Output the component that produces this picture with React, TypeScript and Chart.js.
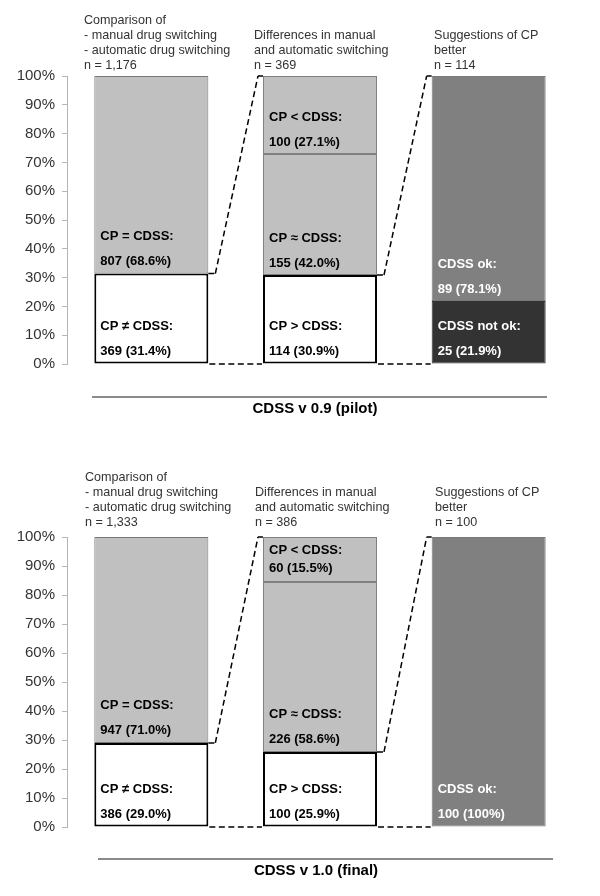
import React, { useEffect, useRef } from "react";
import { Chart, registerables } from "chart.js";

Chart.register(...registerables);

// ---------- data ----------
const barKeys = ["comparison", "differences", "suggestions"];

// counts per segment (lower / middle / upper) for each of the three bars
const pilotLower = [369, 114, 25];
const pilotMiddle = [807, 155, 89];
const pilotUpper = [0, 100, 0];
// shares in % as printed
const pilotLowerPct = [31.4, 30.9, 21.9];
const pilotMiddlePct = [68.6, 42.0, 78.1];
const pilotUpperPct = [0, 27.1, 0];

const finalLower = [386, 100, 0];
const finalMiddle = [947, 226, 100];
const finalUpper = [0, 60, 0];
const finalLowerPct = [29.0, 25.9, 0];
const finalMiddlePct = [71.0, 58.6, 100];
const finalUpperPct = [0, 15.5, 0];

const lowerNames = ["CP \u2260 CDSS:", "CP > CDSS:", "CDSS not ok:"];
const middleNames = ["CP = CDSS:", "CP \u2248 CDSS:", "CDSS ok:"];
const upperNames = ["", "CP < CDSS:", ""];

const headingLines = [
  ["Comparison of", "- manual drug switching", "- automatic drug switching"],
  ["Differences in manual", "and automatic switching"],
  ["Suggestions of CP", "better"],
];

const yTicks = [0, 10, 20, 30, 40, 50, 60, 70, 80, 90, 100];

const pilotTitle = "CDSS v 0.9 (pilot)";
const finalTitle = "CDSS v 1.0 (final)";

// ---------- styles ----------
const FONT = "'Liberation Sans', Arial, Helvetica, sans-serif";
const lowerFill = ["#ffffff", "#ffffff", "#333333"];
const lowerBorder = ["#000000", "#000000", "#333333"];
const lowerText = ["#000000", "#000000", "#ffffff"];
const middleFill = ["#c0c0c0", "#c0c0c0", "#808080"];
const middleBorder = ["#777777", "#808080", "#7a7a7a"];
const middleText = ["#000000", "#000000", "#ffffff"];
const upperFill = ["#c0c0c0", "#c0c0c0", "#c0c0c0"];
const upperBorder = ["#808080", "#808080", "#808080"];

type Panel = {
  lower: number[];
  middle: number[];
  upper: number[];
  lowerPct: number[];
  middlePct: number[];
  upperPct: number[];
  title: string;
  top: number;
  bottom: number;
  headingBottom: number;
  headingX: number[];
  lineY: number;
  lineX0: number;
  lineX1: number;
  titleY: number;
  titleX: number;
};

const panels: Panel[] = [
  {
    lower: pilotLower,
    middle: pilotMiddle,
    upper: pilotUpper,
    lowerPct: pilotLowerPct,
    middlePct: pilotMiddlePct,
    upperPct: pilotUpperPct,
    title: pilotTitle,
    top: 76,
    bottom: 364,
    headingBottom: 66,
    headingX: [84, 254, 434],
    lineY: 397,
    lineX0: 92,
    lineX1: 547,
    titleY: 409,
    titleX: 315,
  },
  {
    lower: finalLower,
    middle: finalMiddle,
    upper: finalUpper,
    lowerPct: finalLowerPct,
    middlePct: finalMiddlePct,
    upperPct: finalUpperPct,
    title: finalTitle,
    top: 537 - 448,
    bottom: 827 - 448,
    headingBottom: 523 - 448,
    headingX: [85, 255, 435],
    lineY: 859 - 448,
    lineX0: 98,
    lineX1: 553,
    titleY: 871 - 448,
    titleX: 316,
  },
];

const CANVAS_W = 600;
const CANVAS_H = 448;
const AXIS_X = 67;
const AREA_RIGHT = 573;

function fmtPct(p: number) {
  if (Math.abs(p - 100) < 1e-9) return "100%";
  return p.toFixed(1) + "%";
}

function PanelChart({ panel }: { panel: Panel }) {
  const ref = useRef<HTMLCanvasElement | null>(null);

  useEffect(() => {
    if (!ref.current) return;
    const totals = barKeys.map(
      (_, i) => panel.lower[i] + panel.middle[i] + panel.upper[i]
    );
    const counts = [panel.lower, panel.middle, panel.upper];
    const pcts = [panel.lowerPct, panel.middlePct, panel.upperPct];
    const names = [lowerNames, middleNames, upperNames];
    const textColors = [lowerText, middleText, ["#000", "#000", "#000"]];

    const overlay = {
      id: "overlay",
      afterDatasetsDraw(chart: any) {
        const ctx = chart.ctx as CanvasRenderingContext2D;
        const ys = chart.scales.y;
        const y0 = ys.getPixelForValue(0);
        const y100 = ys.getPixelForValue(100);

        // segment labels
        ctx.save();
        ctx.font = `bold 13px ${FONT}`;
        ctx.textBaseline = "middle";
        ctx.textAlign = "left";
        for (let d = 0; d < 3; d++) {
          const meta = chart.getDatasetMeta(d);
          for (let i = 0; i < 3; i++) {
            if (!counts[d][i]) continue;
            const el = meta.data[i] as any;
            const left = el.x - el.width / 2;
            const segBottom = el.base;
            const segH = el.base - el.y;
            const small = segH < 60;
            const off2 = small ? 14 : 12;
            const gap = small ? 18 : 25;
            ctx.fillStyle = textColors[d][i];
            ctx.fillText(names[d][i], left + 6, segBottom - off2 - gap);
            ctx.fillText(
              `${counts[d][i]} (${fmtPct(pcts[d][i])})`,
              left + 6,
              segBottom - off2
            );
          }
        }
        ctx.restore();

        // connectors
        ctx.save();
        ctx.strokeStyle = "#000";
        ctx.lineWidth = 1.5;
        const m0 = chart.getDatasetMeta(0);
        for (let i = 0; i < 2; i++) {
          const a = m0.data[i] as any;
          const b = m0.data[i + 1] as any;
          const aRight = a.x + a.width / 2;
          const bLeft = b.x - b.width / 2;
          const yA = ys.getPixelForValue(panel.lowerPct[i]);
          ctx.setLineDash([]);
          ctx.beginPath();
          ctx.moveTo(aRight, yA);
          ctx.lineTo(aRight + 6, yA);
          ctx.moveTo(bLeft - 5, y100);
          ctx.lineTo(bLeft, y100);
          ctx.stroke();
          ctx.setLineDash([6, 3.5]);
          ctx.beginPath();
          ctx.moveTo(aRight + 7, yA);
          ctx.lineTo(bLeft - 5, y100);
          ctx.stroke();
          ctx.beginPath();
          ctx.moveTo(aRight + 1, y0);
          ctx.lineTo(bLeft - 1, y0);
          ctx.stroke();
        }
        ctx.restore();
      },
      afterDraw(chart: any) {
        const ctx = chart.ctx as CanvasRenderingContext2D;
        ctx.save();
        ctx.font = `12.6px ${FONT}`;
        ctx.fillStyle = "#333";
        ctx.textBaseline = "middle";
        ctx.textAlign = "left";
        for (let i = 0; i < 3; i++) {
          const lines = [
            ...headingLines[i],
            "n = " + totals[i].toLocaleString("en-US"),
          ];
          const lh = 15.2;
          lines.forEach((t, k) => {
            const y = panel.headingBottom - (lines.length - 1 - k) * lh;
            ctx.fillText(t, panel.headingX[i], y);
          });
        }
        ctx.strokeStyle = "#8a8a8a";
        ctx.lineWidth = 2;
        ctx.beginPath();
        ctx.moveTo(panel.lineX0, panel.lineY);
        ctx.lineTo(panel.lineX1, panel.lineY);
        ctx.stroke();
        ctx.font = `bold 15px ${FONT}`;
        ctx.fillStyle = "#000";
        ctx.textAlign = "center";
        ctx.fillText(panel.title, panel.titleX, panel.titleY);
        ctx.restore();
      },
    };

    const common = {
      borderSkipped: false,
      categoryPercentage: 1,
      barPercentage: 0.676,
    };

    const chart = new Chart(ref.current, {
      type: "bar",
      data: {
        labels: barKeys,
        datasets: [
          {
            ...common,
            data: panel.lowerPct,
            backgroundColor: lowerFill,
            borderColor: lowerBorder,
            borderWidth: [2, 2, 1],
          },
          {
            ...common,
            data: panel.middlePct,
            backgroundColor: middleFill,
            borderColor: middleBorder,
            borderWidth: 1,
          },
          {
            ...common,
            data: panel.upperPct,
            backgroundColor: upperFill,
            borderColor: upperBorder,
            borderWidth: 1,
          },
        ],
      },
      options: {
        responsive: false,
        animation: false,
        events: [],
        layout: {
          padding: {
            left: 0,
            right: CANVAS_W - AREA_RIGHT,
            top: panel.top,
            bottom: CANVAS_H - panel.bottom,
          },
        },
        plugins: {
          legend: { display: false },
          tooltip: { enabled: false },
          title: { display: false },
        },
        scales: {
          x: {
            display: false,
            stacked: true,
            grid: { display: false },
          },
          y: {
            stacked: true,
            min: 0,
            max: 100,
            afterFit: (s: any) => {
              s.width = AXIS_X;
            },
            afterBuildTicks: (s: any) => {
              s.ticks = yTicks.map((v) => ({ value: v }));
            },
            ticks: {
              callback: (v: any) => v + "%",
              font: { family: FONT, size: 15 },
              color: "#333",
              padding: 7,
            },
            grid: {
              drawOnChartArea: false,
              drawTicks: true,
              tickLength: 5,
              color: "#b5b5b5",
            },
            border: { color: "#b5b5b5", width: 1 },
          },
        },
      } as any,
      plugins: [overlay],
    });
    return () => chart.destroy();
  }, [panel]);

  return (
    <canvas
      ref={ref}
      width={CANVAS_W}
      height={CANVAS_H}
      style={{ display: "block", width: CANVAS_W, height: CANVAS_H }}
    />
  );
}

export default function App() {
  return (
    <div
      style={{
        position: "absolute",
        left: 0,
        top: 0,
        width: CANVAS_W,
        height: CANVAS_H * 2,
        background: "#fff",
      }}
    >
      {panels.map((p, i) => (
        <PanelChart key={i} panel={p} />
      ))}
    </div>
  );
}
